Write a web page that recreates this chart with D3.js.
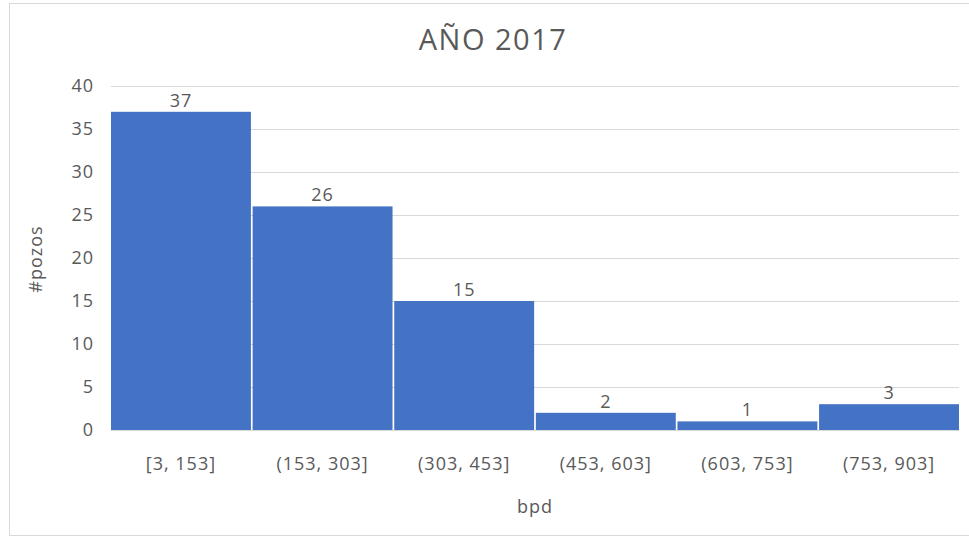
<!DOCTYPE html>
<html>
<head>
<meta charset="utf-8">
<script src="https://cdn.jsdelivr.net/npm/d3@7"></script>
<style>
  body { margin: 0; background: #fff; }
  text { font-family: "Open Sans", "Noto Sans", sans-serif; fill: #595959; letter-spacing: 1px; }
</style>
</head>
<body>
<svg id="chart" width="969" height="537"></svg>
<script>
// bins and counts
const bins = ["[3, 153]", "(153, 303]", "(303, 453]", "(453, 603]", "(603, 753]", "(753, 903]"];
const counts = [37, 26, 15, 2, 1, 3];
const yTicks = [0, 5, 10, 15, 20, 25, 30, 35, 40];

const margin = { top: 86, right: 10, bottom: 107, left: 111 };
const width = 969, height = 537;

const svg = d3.select("#chart");

// chart border
svg.append("rect")
  .attr("x", 9.5).attr("y", 3.5)
  .attr("width", 969).attr("height", 532)
  .attr("fill", "none")
  .attr("stroke", "#d9d9d9");

const x = d3.scaleBand()
  .domain(bins)
  .range([margin.left, width - margin.right])
  .paddingInner(0.012)
  .paddingOuter(0);

const y = d3.scaleLinear()
  .domain([0, 40])
  .range([height - margin.bottom, margin.top]);

// gridlines
svg.append("g")
  .selectAll("line")
  .data(yTicks)
  .enter()
  .append("line")
  .attr("x1", margin.left)
  .attr("x2", width - margin.right)
  .attr("y1", (d) => Math.round(y(d)) + 0.5)
  .attr("y2", (d) => Math.round(y(d)) + 0.5)
  .attr("stroke", "#d9d9d9")
  .attr("stroke-width", 1);

// y axis labels
const yAxis = d3.axisLeft(y).tickValues(yTicks).tickSize(0).tickPadding(17);
svg.append("g")
  .attr("transform", `translate(${margin.left},0)`)
  .call(yAxis)
  .call((g) => g.select(".domain").remove())
  .selectAll("text")
  .style("font-size", "18px")
  .attr("fill", "#595959");

// bars
svg.append("g")
  .selectAll("rect")
  .data(counts)
  .enter()
  .append("rect")
  .attr("x", (d, i) => x(bins[i]))
  .attr("y", (d) => y(d))
  .attr("width", x.bandwidth())
  .attr("height", (d) => y(0) - y(d))
  .attr("fill", "#4472c4");

// data labels
svg.append("g")
  .selectAll("text")
  .data(counts)
  .enter()
  .append("text")
  .attr("x", (d, i) => x(bins[i]) + x.bandwidth() / 2)
  .attr("y", (d) => y(d) - 5)
  .attr("text-anchor", "middle")
  .style("font-size", "18px")
  .text((d) => d);

// x axis
const xAxis = d3.axisBottom(x).tickSize(0).tickPadding(27);
svg.append("g")
  .attr("transform", `translate(0,${y(0)})`)
  .call(xAxis)
  .call((g) => g.select(".domain").attr("stroke", "#d9d9d9"))
  .selectAll("text")
  .style("font-size", "18px")
  .attr("fill", "#595959");

// title
svg.append("text")
  .attr("x", 493)
  .attr("y", 50)
  .attr("text-anchor", "middle")
  .style("font-size", "29px")
  .style("letter-spacing", "1.5px")
  .text("AÑO 2017");

// axis titles
svg.append("text")
  .attr("x", 535)
  .attr("y", 513)
  .attr("text-anchor", "middle")
  .style("font-size", "18px")
  .text("bpd");

svg.append("text")
  .attr("transform", "translate(42,259) rotate(-90)")
  .attr("text-anchor", "middle")
  .style("font-size", "18px")
  .text("#pozos");
</script>
</body>
</html>
